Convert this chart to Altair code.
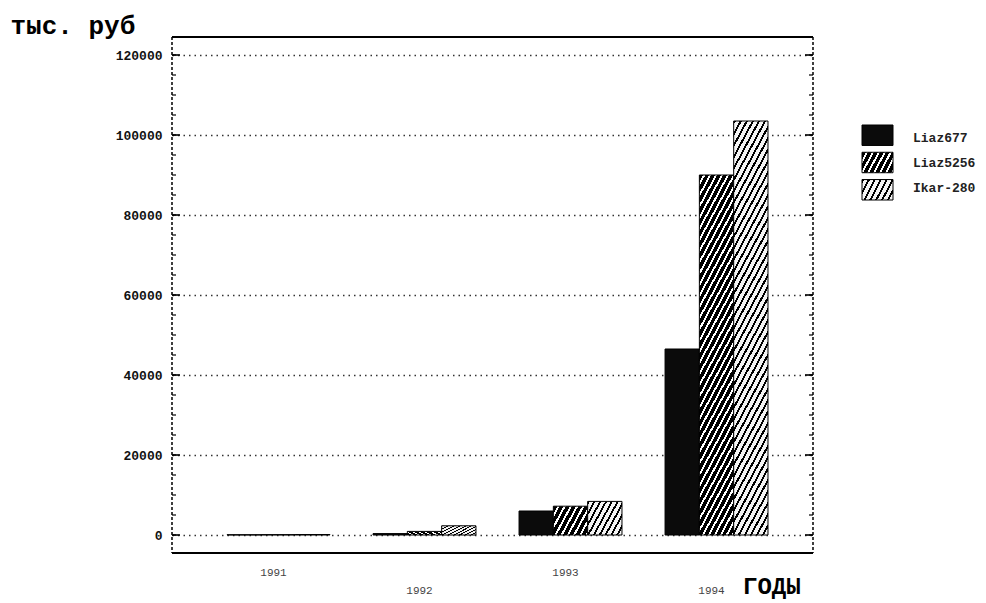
import math

import altair as alt
import pandas as pd

# Annual costs by bus model, thousand roubles
years = ["1991", "1992", "1993", "1994"]
liaz677 = [60, 350, 6000, 46500]
liaz5256 = [90, 900, 7200, 90000]
ikar280 = [120, 2300, 8400, 103500]
series_names = ["Liaz677", "Liaz5256", "Ikar-280"]
y_labels = [0, 20000, 40000, 60000, 80000, 100000, 120000]
minor_ticks = list(range(0, 125000, 5000))

df = pd.DataFrame(
    [
        {"year": y, "series": s, "value": v}
        for s, vals in zip(series_names, [liaz677, liaz5256, ikar280])
        for y, v in zip(years, vals)
    ]
)
year_df = pd.DataFrame({"year": years})
legend_df = pd.DataFrame({"name": series_names})
tick_df = pd.DataFrame({"t": minor_ticks})
major_df = pd.DataFrame({"t": y_labels})
one = pd.DataFrame({"k": [0]})

W, H = 641, 516
MONO = "Liberation Mono"

y_scale = alt.Scale(domain=[-4500, 124500], nice=False, zero=False)
x_scale = alt.Scale(domain=years, paddingInner=0.295, paddingOuter=0.3425, align=0.55)
off_scale = alt.Scale(domain=series_names, paddingInner=0, paddingOuter=0)
leg_scale = alt.Scale(domain=series_names, range=[88, 163], paddingInner=0.25, paddingOuter=0)


def hatch(h, ink, w=34.3, angle=62, period=6.0, dark="#000000", light="#ffffff"):
    """Diagonal '////' hatching built from a striped linear gradient."""
    k = math.tan(math.radians(angle)) * w / h
    s = (1 + k) / (k * k + 1)
    a, b = k * s, s
    dt = a / (w * (a * a + b * b))
    n = max(2, round(1 / (dt * period)))
    stops = []
    for i in range(n):
        o0, o1, o2 = i / n, (i + ink) / n, (i + 1) / n
        stops += [
            {"offset": o0, "color": dark},
            {"offset": o1, "color": dark},
            {"offset": o1, "color": light},
            {"offset": o2, "color": light},
        ]
    return {"gradient": "linear", "x1": 0, "y1": 0, "x2": a, "y2": b, "stops": stops}


SOLID = "#0b0b0b"
fills = {
    "Liaz677": alt.value(SOLID),
    "Liaz5256": alt.condition(
        alt.datum.year == "1994", alt.value(hatch(360, 0.65)), alt.value(hatch(29, 0.65))
    ),
    "Ikar-280": alt.condition(
        alt.datum.year == "1994",
        alt.value(hatch(414, 0.35, light="#f4f4f4")),
        alt.value(hatch(34, 0.35, light="#f4f4f4")),
    ),
}
legend_fills = {
    "Liaz677": SOLID,
    "Liaz5256": hatch(20, 0.65, w=31),
    "Ikar-280": hatch(20, 0.35, w=31, light="#f4f4f4"),
}

y_axis = alt.Axis(
    values=y_labels,
    format="d",
    ticks=False,
    domain=False,
    grid=True,
    gridColor="#333333",
    gridDash=[1.5, 4],
    gridWidth=1.3,
    labelFont=MONO,
    labelFontSize=13,
    labelFontWeight="bold",
    labelColor="#111111",
    labelPadding=10,
    title="тыс. руб",
    titleAngle=0,
    titleX=-162,
    titleY=-4,
    titleAlign="left",
    titleBaseline="alphabetic",
    titleFont=MONO,
    titleFontSize=26,
    titleFontWeight="bold",
    titleColor="#000000",
)


def bar_layer(name, first=False):
    return (
        alt.Chart(df)
        .transform_filter(alt.datum.series == name)
        .mark_bar(stroke="black", strokeWidth=1)
        .encode(
            x=alt.X("year:N", scale=x_scale, axis=None),
            xOffset=alt.XOffset("series:N", scale=off_scale),
            y=alt.Y("value:Q", scale=y_scale, axis=y_axis if first else None),
            color=fills[name],
        )
    )


bars = [bar_layer(n, first=(i == 0)) for i, n in enumerate(series_names)]

# Frame: solid top and bottom, dashed sides
frame = [
    alt.Chart(one).mark_rule(color="black", strokeWidth=2).encode(
        x=alt.value(0), x2=alt.value(W), y=alt.value(0)
    ),
    alt.Chart(one).mark_rule(color="black", strokeWidth=2).encode(
        x=alt.value(0), x2=alt.value(W), y=alt.value(H)
    ),
    alt.Chart(one).mark_rule(color="black", strokeWidth=1.5, strokeDash=[3, 2]).encode(
        x=alt.value(0), y=alt.value(0), y2=alt.value(H)
    ),
    alt.Chart(one).mark_rule(color="black", strokeWidth=1.5, strokeDash=[3, 2]).encode(
        x=alt.value(W), y=alt.value(0), y2=alt.value(H)
    ),
]

# Inward ticks on both sides of the frame
ticks = []
for data, length, width in [(tick_df, 4, 1.2), (major_df, 8, 1.6)]:
    ticks.append(
        alt.Chart(data).mark_rule(color="black", strokeWidth=width).encode(
            x=alt.value(0), x2=alt.value(length),
            y=alt.Y("t:Q", scale=y_scale, axis=None),
        )
    )
    ticks.append(
        alt.Chart(data).mark_rule(color="black", strokeWidth=width).encode(
            x=alt.value(W - length), x2=alt.value(W),
            y=alt.Y("t:Q", scale=y_scale, axis=None),
        )
    )

# Year labels, staggered in two rows
year_text = []
for subset, ypos in [(["1991", "1993"], 536), (["1992", "1994"], 554)]:
    year_text.append(
        alt.Chart(year_df)
        .transform_filter(alt.FieldOneOfPredicate(field="year", oneOf=subset))
        .mark_text(font=MONO, fontSize=11, color="#444444", dx=-5, baseline="middle")
        .encode(
            x=alt.X("year:N", scale=x_scale, axis=None),
            y=alt.value(ypos),
            text="year:N",
        )
    )

# Category-axis caption
years_title = (
    alt.Chart(pd.DataFrame({"label": ["ГОДЫ"]}))
    .mark_text(font=MONO, fontSize=24, fontWeight="bold", color="#000000",
               align="left", baseline="alphabetic")
    .encode(x=alt.value(571), y=alt.value(557), text="label:N")
)

# Legend to the right of the plot
legend = []
for n in series_names:
    legend.append(
        alt.Chart(legend_df)
        .transform_filter(alt.datum.name == n)
        .mark_rect(stroke="black", strokeWidth=1)
        .encode(
            x=alt.value(690), x2=alt.value(721),
            y=alt.Y("name:N", scale=leg_scale, axis=None),
            color=alt.value(legend_fills[n]),
        )
    )
legend.append(
    alt.Chart(legend_df)
    .mark_text(font=MONO, fontSize=13, fontWeight="bold", color="#222222",
               align="left", baseline="middle")
    .encode(
        x=alt.value(741),
        y=alt.Y("name:N", scale=leg_scale, axis=None),
        text="name:N",
    )
)

chart = (
    alt.layer(*bars, *ticks, *frame, *year_text, years_title, *legend)
    .resolve_scale(y="independent")
    .properties(
        width=W,
        height=H,
        autosize=alt.AutoSizeParams(type="none"),
        padding={"left": 172, "top": 37, "right": 173, "bottom": 50},
        background="white",
    )
    .configure_view(stroke=None)
)

chart.save("out.html", embed_options={"renderer": "svg", "actions": False})
